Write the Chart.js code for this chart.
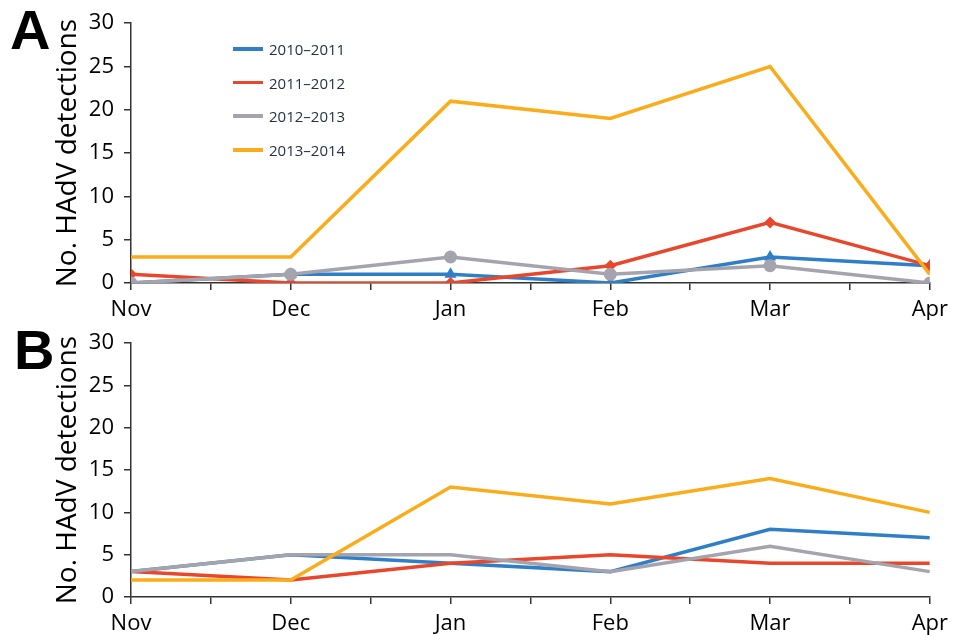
<!DOCTYPE html>
<html>
<head>
<meta charset="utf-8">
<script src="https://cdn.jsdelivr.net/npm/chart.js@4"></script>
<style>
  body { margin: 0; background: #fff; }
  #wrap { position: relative; width: 955px; height: 635px; overflow: hidden; }
  .panel { position: absolute; left: 0; }
  .tag { position: absolute; font-family: "Liberation Sans", Arial, sans-serif; font-weight: bold; font-size: 56px; line-height: 56px; color: #000; }
  #legend { position: absolute; left: 233px; top: 32px; font-family: "Open Sans", sans-serif; font-size: 15px; color: #263145; }
  .row { height: 33.7px; display: flex; align-items: center; }
  .swatch { width: 30px; height: 3.5px; margin-right: 6px; }
</style>
</head>
<body>
<div id="wrap">
  <div class="panel" style="top:0"><canvas id="chartA" width="955" height="320"></canvas></div>
  <div class="panel" style="top:320px"><canvas id="chartB" width="955" height="315"></canvas></div>
  <div class="tag" style="left:10px; top:2px">A</div>
  <div class="tag" style="left:14px; top:322px">B</div>
  <div id="legend"></div>
</div>
<script>
var months = ["Nov", "Dec", "Jan", "Feb", "Mar", "Apr"];
var seasons = ["2010–2011", "2011–2012", "2012–2013", "2013–2014"];
var colors = ["#2e7fc8", "#e8472b", "#a5a4ae", "#fbac1a"];
var markers = ["triangle", "rectRot", "circle", false];
var markerSizes = [7, 6, 6.5, 0];

// panel A
var a2010 = [0, 1, 1, 0, 3, 2];
var a2011 = [1, 0, 0, 2, 7, 2];
var a2012 = [0, 1, 3, 1, 2, 0];
var a2013 = [3, 3, 21, 19, 25, 1];

// panel B
var b2010 = [3, 5, 4, 3, 8, 7];
var b2011 = [3, 2, 4, 5, 4, 4];
var b2012 = [3, 5, 5, 3, 6, 3];
var b2013 = [2, 2, 13, 11, 14, 10];

var yTicks = [0, 5, 10, 15, 20, 25, 30];

function toPoints(values) {
    return values.map(function (v, i) { return { x: i, y: v }; });
}

function makeDatasets(series, withMarkers) {
    return series.map(function (values, i) {
        return {
            label: seasons[i],
            data: toPoints(values),
            borderColor: colors[i],
            backgroundColor: colors[i],
            borderWidth: 3.5,
            pointStyle: withMarkers ? markers[i] : false,
            pointRadius: withMarkers ? markerSizes[i] : 0,
            pointBorderWidth: 0,
            tension: 0,
            order: 3 - i
        };
    });
}

function makeChart(id, series, withMarkers, padTop, xHeight) {
    var ctx = document.getElementById(id).getContext('2d');
    return new Chart(ctx, {
        type: 'line',
        data: { datasets: makeDatasets(series, withMarkers) },
        options: {
            responsive: false,
            animation: false,
            layout: { padding: { top: padTop, right: 21, left: 0, bottom: 0 } },
            plugins: { legend: { display: false }, tooltip: { enabled: false } },
            scales: {
                x: {
                    type: 'linear',
                    min: 0,
                    max: months.length - 1,
                    border: { color: '#333', width: 1.5 },
                    grid: { drawOnChartArea: false, color: '#333', tickLength: 7, lineWidth: 1.5 },
                    ticks: {
                        stepSize: 0.5,
                        autoSkip: false,
                        maxRotation: 0,
                        padding: 7,
                        color: '#000',
                        font: { family: 'Open Sans', size: 22 },
                        callback: function (v) {
                            return Number.isInteger(v) ? months[v] : '';
                        }
                    },
                    afterFit: function (scale) { scale.height = xHeight; }
                },
                y: {
                    min: 0,
                    max: 30,
                    border: { color: '#333', width: 1.5 },
                    grid: { drawOnChartArea: false, color: '#333', tickLength: 7, lineWidth: 1.5 },
                    afterBuildTicks: function (scale) {
                        scale.ticks = yTicks.map(function (v) { return { value: v }; });
                    },
                    ticks: {
                        padding: 10,
                        color: '#000',
                        font: { family: 'Open Sans', size: 22 }
                    },
                    title: {
                        display: true,
                        text: 'No. HAdV detections',
                        color: '#000',
                        font: { family: 'Open Sans', size: 28 },
                        padding: { top: 51, bottom: 0 }
                    },
                    afterFit: function (scale) { scale.width = 131; }
                }
            }
        }
    });
}

makeChart('chartA', [a2010, a2011, a2012, a2013], true, 23, 37);
makeChart('chartB', [b2010, b2011, b2012, b2013], false, 17, 38);

// legend for panel A
var legend = document.getElementById('legend');
seasons.forEach(function (s, i) {
    var row = document.createElement('div');
    row.className = 'row';
    row.innerHTML = '<div class="swatch" style="background:' + colors[i] + '"></div><span>' + s + '</span>';
    legend.appendChild(row);
});
</script>
</body>
</html>
